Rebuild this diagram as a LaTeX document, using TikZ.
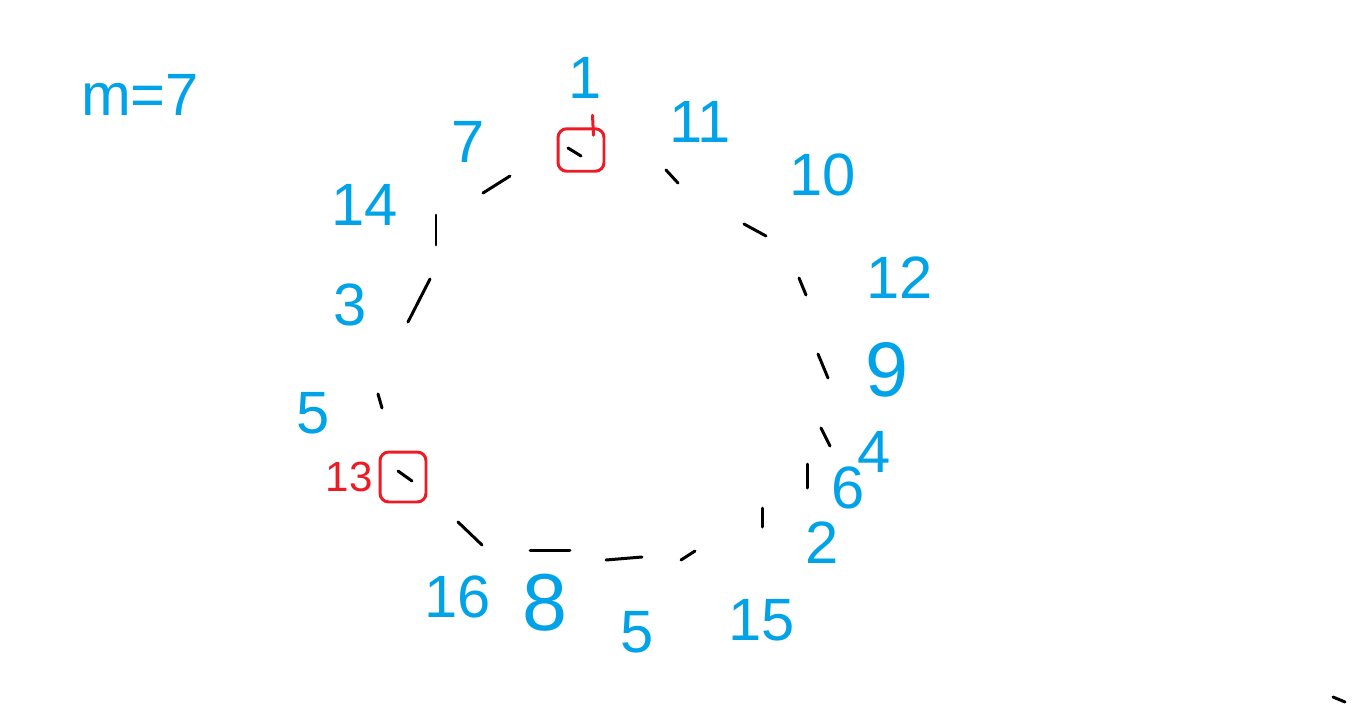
\documentclass[tikz,border=0pt]{standalone}
\usepackage{fontspec}
\setmainfont{Liberation Sans}
\usepackage{tikz}
\usetikzlibrary{positioning}

\definecolor{penblue}{RGB}{0,162,232}
\definecolor{penred}{RGB}{237,28,36}

\begin{document}
\begin{tikzpicture}[
		x=0.02cm, y=-0.02cm,
		num/.style={
			text=penblue,
			inner sep=0pt,
			font=\fontsize{34}{36}\selectfont
		},
		slot/.style={
			draw=black,
			line width=1.7pt,
			line cap=round
		},
		hitbox/.style={
			draw=penred,
			line width=1.7pt,
			rounded corners=5pt,
			minimum width=0.92cm,
			minimum height=0.85cm
		}
	]
	\useasboundingbox (0,0) rectangle (1363,707);

	% table size
	\node[num] (size) at (140,95) {m=7};

	% red boxes round the two hit slots
	\node[hitbox] (hit0) at (581,150) {};
	\node[hitbox, minimum height=1cm] (hit13) at (403,477) {};
	\draw[draw=penred, line width=1.7pt, line cap=round] (hit0.north east) ++(-13,-12) -- ++(1,20);
	\node[text=penred, inner sep=0pt, font=\fontsize{24}{26}\selectfont, left=3pt of hit13] (lab13) {13};

	% keys round the ring
	\node[num] (k1) at (585,78) {1};
	\node[num] (k11) at (700,122) {11};
	\node[num] (k10) at (823,175) {10};
	\node[num] (k12) at (900,278) {12};
	\node[num, font=\fontsize{44}{46}\selectfont] (k9) at (887,370) {9};
	\node[num] (k4) at (874,452) {4};
	\node[num] (k6) at (848,488) {6};
	\node[num] (k2) at (822,543) {2};
	\node[num] (k15) at (762,620) {15};
	\node[num] (k5b) at (637,632) {5};
	\node[num, font=\fontsize{46}{48}\selectfont] (k8) at (545,603) {8};
	\node[num] (k16) at (458,597) {16};
	\node[num] (k5a) at (313,413) {5};
	\node[num] (k3) at (350,305) {3};
	\node[num] (k14) at (365,205) {14};
	\node[num] (k7) at (468,142) {7};

	% the ring of slots
	\foreach \ax/\ay/\bx/\by in {
		568/148/581/156, 666/170/678/183, 744/224/766/236, 799/278/806/295,
		818/354/828/378, 821/428/830/446, 807/464/807/488, 762/508/762/527,
		681/560/695/551, 606/560/642/557, 530/550/570/550, 458/522/482/545,
		398/471/412/481, 378/394/382/408, 430/279/408/322, 436/215/436/245,
		483/193/510/176, 1333/697/1345/702}
	{
		\draw[slot] (\ax,\ay) -- (\bx,\by);
	}
\end{tikzpicture}
\end{document}
